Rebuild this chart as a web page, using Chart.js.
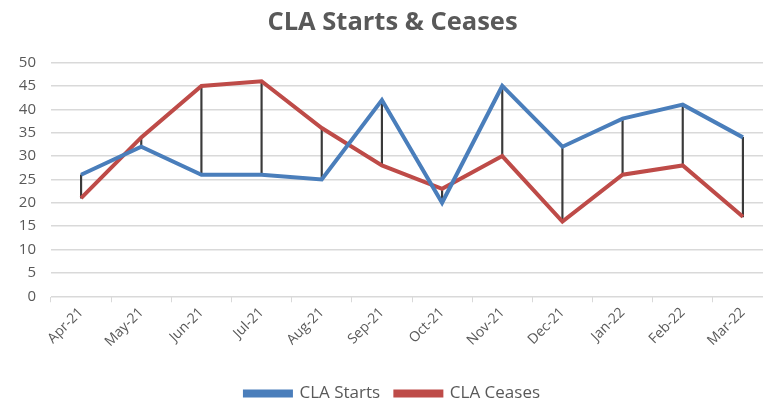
<!DOCTYPE html>
<html><head><meta charset="utf-8">
<script src="https://cdn.jsdelivr.net/npm/chart.js@4"></script>
<style>html,body{margin:0;padding:0;background:#fff;overflow:hidden}#wrap{width:798px;height:403px}</style>
</head><body><div id="wrap"><canvas id="c" width="798" height="403"></canvas></div>
<script>
const categories = ["Apr-21","May-21","Jun-21","Jul-21","Aug-21","Sep-21","Oct-21","Nov-21","Dec-21","Jan-22","Feb-22","Mar-22"];
const claStarts = [26,32,26,26,25,42,20,45,32,38,41,34];
const claCeases = [21,34,45,46,36,28,23,30,16,26,28,17];
const yTicks = [0,5,10,15,20,25,30,35,40,45,50];

const FONT = "'Open Sans', 'Noto Sans', sans-serif";
const GREY = '#595959';
new Chart(document.getElementById('c'), {
  type: 'line',
  data: {
    labels: categories,
    datasets: [
      {label:'CLA Starts', data: claStarts, borderColor:'#4A7EBB', backgroundColor:'#4A7EBB', borderWidth:4, pointRadius:0, tension:0, order:1},
      {label:'CLA Ceases', data: claCeases, borderColor:'#BE4B48', backgroundColor:'#BE4B48', borderWidth:4, pointRadius:0, tension:0, order:2},
      {type:'bar', label:'hilo', data: claStarts.map((s,i)=>[Math.min(s,claCeases[i]), Math.max(s,claCeases[i])]), backgroundColor:'#3a3a3a', barThickness:1.5, order:3}
    ]
  },
  options: {
    responsive:false, animation:false,
    layout:{padding:{left:12,right:25,top:0,bottom:-9}},
    plugins:{
      title:{display:true, text:'CLA Starts & Ceases', color:GREY, font:{family:FONT, size:25.5, weight:'bold'}, padding:{top:7,bottom:25}},
      legend:{position:'bottom', labels:{
        generateLabels:(chart)=>{
          const items = Chart.defaults.plugins.legend.labels.generateLabels(chart).filter(it=>it.text!=='hilo');
          items.forEach((it,i)=>{ if(i < items.length-1) it.text = it.text + '   '; });
          return items;
        },
        color:GREY, boxWidth:46, boxHeight:4, font:{family:FONT, size:17}, padding:2}},
      tooltip:{enabled:false}
    },
    scales:{
      x:{offset:true, grid:{display:true, offset:true, drawOnChartArea:false, drawTicks:true, tickLength:6, color:'#d9d9d9'}, border:{color:'#d9d9d9'},
         afterFit:(ax)=>{ax.height += 31;},
         ticks:{color:GREY, minRotation:45, maxRotation:45, font:{family:FONT, size:14}, padding:2}},
      y:{min:0, max:50, afterBuildTicks:(ax)=>{ax.ticks = yTicks.map(v=>({value:v}));},
         afterFit:(ax)=>{ax.width = 39;},
         grid:{color:'#d9d9d9', drawTicks:false, lineWidth:1.5}, border:{display:false},
         ticks:{color:GREY, font:{family:FONT, size:15}, padding:15}}
    }
  }
});
</script></body></html>
